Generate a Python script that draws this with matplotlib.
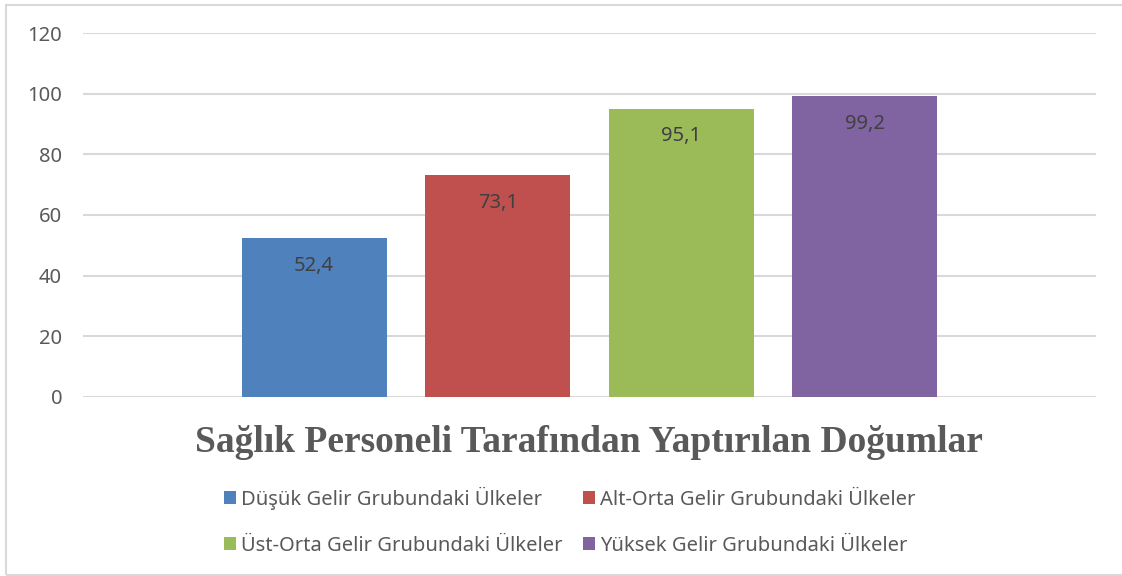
import numpy as np
import matplotlib.pyplot as plt
from matplotlib.patches import Rectangle

series = ["Düşük Gelir Grubundaki Ülkeler", "Alt-Orta Gelir Grubundaki Ülkeler",
          "Üst-Orta Gelir Grubundaki Ülkeler", "Yüksek Gelir Grubundaki Ülkeler"]
values = [52.4, 73.1, 95.1, 99.2]
labels = ["52,4", "73,1", "95,1", "99,2"]
colors = ["#4f81bd", "#c0504d", "#9bbb59", "#8064a2"]
yticks = [0, 20, 40, 60, 80, 100, 120]
title = "Sağlık Personeli Tarafından Yaptırılan Doğumlar"

plt.rcParams['font.family'] = ['Noto Sans', 'DejaVu Sans']

fig = plt.figure(figsize=(11.22, 5.76), dpi=100)
ax = fig.add_axes([0.074, 0.3108, 0.9028, 0.6319])

step = 0.1813
width = 0.1431
for i, (name, v, lab, c) in enumerate(zip(series, values, labels, colors)):
    x = (i - 1.5) * step
    ax.bar(x, v, width=width, color=c, label=name, zorder=2)
    ax.text(x, v - 9.2, lab, ha='center', va='center', fontsize=14.5, color='#404040')

ax.set_xlim(-0.5, 0.5)
ax.set_ylim(0, 120)
ax.set_yticks(yticks)
ax.set_xticks([])
ax.yaxis.grid(True, color='#d9d9d9', linewidth=1.5, zorder=0)
for s in ax.spines.values():
    s.set_visible(False)
ax.tick_params(axis='y', length=0, pad=15, labelsize=14.5, labelcolor='#595959')

fig.text(0.525, 0.232, title, ha='center', va='center', fontsize=27,
         fontweight='bold', family='Liberation Serif', color='#595959')

# row-major order like the original legend
h, l = ax.get_legend_handles_labels()
order = [0, 2, 1, 3]
fig.legend([h[i] for i in order], [l[i] for i in order], loc='center',
           bbox_to_anchor=(0.508, 0.095), ncol=2, frameon=False,
           fontsize=14.5, handlelength=0.6, handleheight=0.6, handletextpad=0.25,
           columnspacing=1.0, labelspacing=1.3, labelcolor='#595959')

fig.add_artist(Rectangle((6 / 1122, 0.002), 1.0, 1 - 5 / 576 - 0.002, transform=fig.transFigure,
                         fill=False, edgecolor='#d9d9d9', linewidth=1.5))

fig.savefig("out.png", dpi=100)
